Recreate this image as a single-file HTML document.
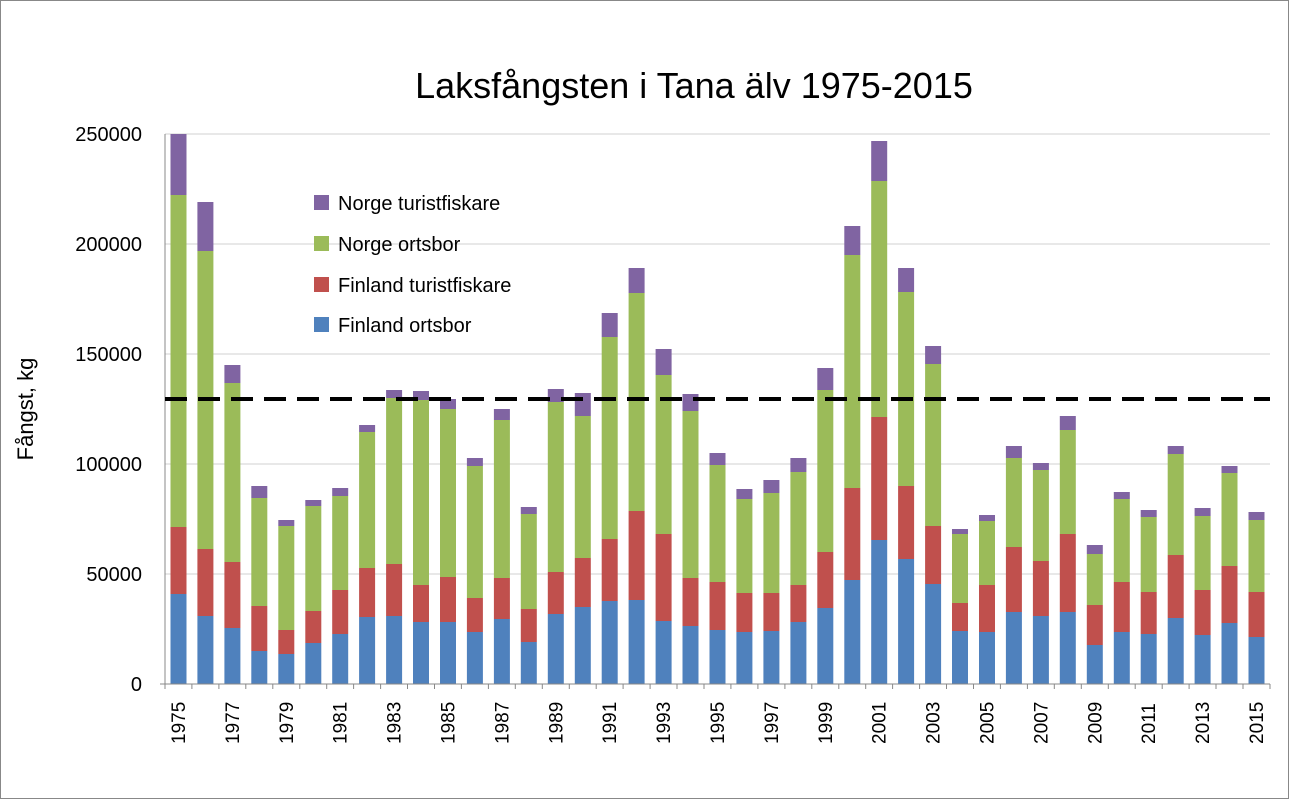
<!DOCTYPE html>
<html><head><meta charset="utf-8"><style>
html,body{margin:0;padding:0;background:#fff;}
svg{display:block;font-family:"Liberation Sans","DejaVu Sans",sans-serif;}
</style></head><body>
<svg id="s" width="1289" height="799" viewBox="0 0 1289 799" xmlns="http://www.w3.org/2000/svg">
<rect x="0.5" y="0.5" width="1288" height="798" fill="#fff" stroke="#888" stroke-width="1"/>
<text x="694" y="98" font-size="36" text-anchor="middle" fill="#000">Laksfångsten i Tana älv 1975-2015</text>
<g stroke="#d0d0d0" stroke-width="1">
<line x1="165" y1="134" x2="1270" y2="134"/><line x1="165" y1="244" x2="1270" y2="244"/>
<line x1="165" y1="354" x2="1270" y2="354"/><line x1="165" y1="464" x2="1270" y2="464"/>
<line x1="165" y1="574" x2="1270" y2="574"/>
</g>
<g font-size="20" text-anchor="end" fill="#000">
<text x="142" y="141">250000</text><text x="142" y="251">200000</text><text x="142" y="361">150000</text>
<text x="142" y="471">100000</text><text x="142" y="581">50000</text><text x="142" y="691">0</text>
</g>
<text transform="translate(33,409) rotate(-90)" font-size="22" text-anchor="middle">Fångst, kg</text>
<g id="bars"></g>
<g stroke="#888" stroke-width="1" id="ax">
<line x1="165" y1="134" x2="165" y2="684"/><line x1="160" y1="684" x2="1270" y2="684"/>
</g>
<line x1="165" y1="399" x2="1270" y2="399" stroke="#000" stroke-width="4" stroke-dasharray="22,11"/>
<g font-size="19" fill="#000" id="yl">
<text transform="translate(185,744) rotate(-90)">1975</text>
<text transform="translate(238.9,744) rotate(-90)">1977</text>
<text transform="translate(292.8,744) rotate(-90)">1979</text>
<text transform="translate(346.7,744) rotate(-90)">1981</text>
<text transform="translate(400.6,744) rotate(-90)">1983</text>
<text transform="translate(454.5,744) rotate(-90)">1985</text>
<text transform="translate(508.4,744) rotate(-90)">1987</text>
<text transform="translate(562.3,744) rotate(-90)">1989</text>
<text transform="translate(616.2,744) rotate(-90)">1991</text>
<text transform="translate(670.1,744) rotate(-90)">1993</text>
<text transform="translate(724,744) rotate(-90)">1995</text>
<text transform="translate(777.9,744) rotate(-90)">1997</text>
<text transform="translate(831.8,744) rotate(-90)">1999</text>
<text transform="translate(885.7,744) rotate(-90)">2001</text>
<text transform="translate(939.6,744) rotate(-90)">2003</text>
<text transform="translate(993.5,744) rotate(-90)">2005</text>
<text transform="translate(1047.4,744) rotate(-90)">2007</text>
<text transform="translate(1101.3,744) rotate(-90)">2009</text>
<text transform="translate(1155.2,744) rotate(-90)">2011</text>
<text transform="translate(1209.1,744) rotate(-90)">2013</text>
<text transform="translate(1263,744) rotate(-90)">2015</text>
</g>
<g font-size="20" fill="#000">
<rect x="314" y="195" width="15" height="15" fill="#8064a2"/><text x="338" y="210">Norge turistfiskare</text>
<rect x="314" y="236" width="15" height="15" fill="#9bbb59"/><text x="338" y="251">Norge ortsbor</text>
<rect x="314" y="277" width="15" height="15" fill="#c0504d"/><text x="338" y="292">Finland turistfiskare</text>
<rect x="314" y="317" width="15" height="15" fill="#4f81bd"/><text x="338" y="332">Finland ortsbor</text>
</g>
</svg>
<script>
var d=[[594,527,195,134],[616,549,251,202],[628,562,383,365],[651,606,498,486],[654,630,526,520],[643,611,506,500],[634,590,496,488],[617,568,432,425],[616,564,398,390],[622,585,400,391],[622,577,409,399],[632,598,466,458],[619,578,420,409],[642,609,514,507],[614,572,402,389],[607,558,416,393],[601,539,337,313],[600,511,293,268],[621,534,375,349],[626,578,411,394],[630,582,465,453],[632,593,499,489],[631,593,493,480],[622,585,472,458],[608,552,390,368],[580,488,255,226],[540,417,181,141],[559,486,292,268],[584,526,364,346],[631,603,534,529],[632,585,521,515],[612,547,458,446],[616,561,470,463],[612,534,430,416],[645,605,554,545],[632,582,499,492],[634,592,517,510],[618,555,454,446],[635,590,516,508],[623,566,473,466],[637,592,520,512]];
var c=["#4f81bd","#c0504d","#9bbb59","#8064a2"],h="",ax="",sl=26.95;
d.forEach(function(r,i){var x=165+sl*i+5.5,prev=684;for(var k=0;k<4;k++){h+='<rect x="'+x.toFixed(1)+'" y="'+r[k]+'" width="16" height="'+(prev-r[k])+'" fill="'+c[k]+'"/>';prev=r[k];}
var tx=(165+sl*i).toFixed(1);ax+='<line x1="'+tx+'" y1="684" x2="'+tx+'" y2="689"/>';});
ax+='<line x1="1270" y1="684" x2="1270" y2="689"/>';
document.getElementById("bars").innerHTML=h;
document.getElementById("ax").insertAdjacentHTML("beforeend",ax);
</script>
</body></html>
